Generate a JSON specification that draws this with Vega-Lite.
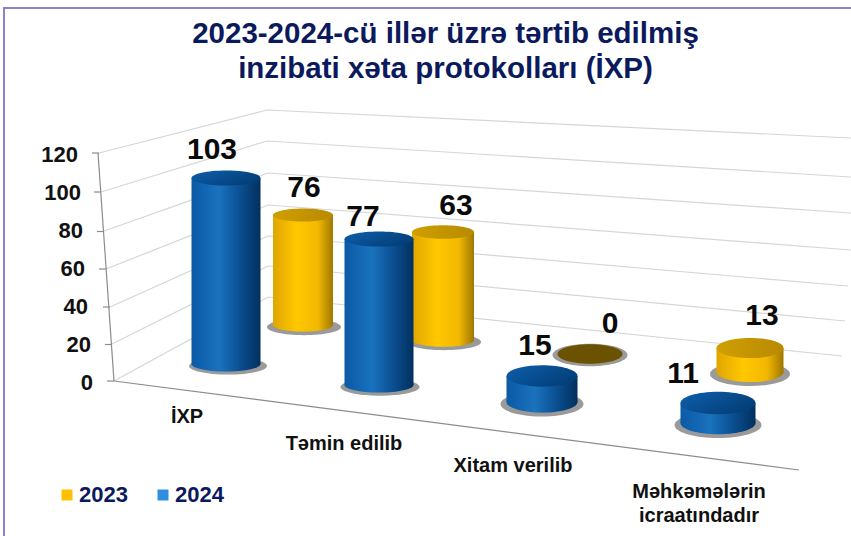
{
"$schema":"https://vega.github.io/schema/vega-lite/v6.json",
"width":851,"height":536,"padding":0,"autosize":{"type":"none"},"background":"white",
"config":{"view":{"stroke":null},"font":"Liberation Sans"},
"title":{"text":["2023-2024-cü illər üzrə tərtib edilmiş","inzibati xəta protokolları (İXP)"],"font":"Liberation Sans","fontSize":29.5,"fontWeight":"bold","color":"#0a1a5c","lineHeight":35,"anchor":"middle","frame":"group","offset":-84,"dx":20},
"datasets":{
"bars":[
{"category":"İXP","year":"2023","value":76},
{"category":"Təmin edilib","year":"2023","value":63},
{"category":"Xitam verilib","year":"2023","value":0},
{"category":"Məhkəmələrin icraatındadır","year":"2023","value":13},
{"category":"İXP","year":"2024","value":103},
{"category":"Təmin edilib","year":"2024","value":77},
{"category":"Xitam verilib","year":"2024","value":15},
{"category":"Məhkəmələrin icraatındadır","year":"2024","value":11}],
"cats":[{"label":"İXP"},{"label":"Təmin edilib"},{"label":"Xitam verilib"},{"label":"Məhkəmələrin\nicraatındadır"}],
"levels":[{"level":120},{"level":100},{"level":80},{"level":60},{"level":40},{"level":20},{"level":0}],
"wall":[
{"level":120,"node":"axis"},{"level":120,"node":"corner"},{"level":120,"node":"end"},
{"level":100,"node":"axis"},{"level":100,"node":"corner"},{"level":100,"node":"end"},
{"level":80,"node":"axis"},{"level":80,"node":"corner"},{"level":80,"node":"end"},
{"level":60,"node":"axis"},{"level":60,"node":"corner"},{"level":60,"node":"end"},
{"level":40,"node":"axis"},{"level":40,"node":"corner"},{"level":40,"node":"end"},
{"level":20,"node":"axis"},{"level":20,"node":"corner"},{"level":20,"node":"end"},
{"level":0,"node":"axis"},{"level":0,"node":"corner"},{"level":0,"node":"end"}],
"frame":[
{"line":"axis"},{"line":"axis"},{"line":"floor"},{"line":"floor"},
{"line":"t120"},{"line":"t120"},{"line":"t100"},{"line":"t100"},{"line":"t80"},{"line":"t80"},{"line":"t60"},{"line":"t60"},{"line":"t40"},{"line":"t40"},{"line":"t20"},{"line":"t20"},{"line":"t0"},{"line":"t0"}],
"border":[{"edge":"right"},{"edge":"corner"},{"edge":"bottom"}]
},
"resolve":{"scale":{"x":"independent","y":"independent","yOffset":"independent","size":"independent","color":"independent","shape":"independent"}},
"layer":[
{"data":{"name":"border"},"transform":[{"window":[{"op":"row_number","as":"n"}]}],
 "mark":{"type":"line","stroke":"#8a84c6","strokeWidth":2},
 "encoding":{"order":{"field":"n"},
  "x":{"field":"n","type":"quantitative","axis":null,"scale":{"domain":[1,2,3],"range":[851,4,4]}},
  "y":{"field":"n","type":"quantitative","axis":null,"scale":{"domain":[1,2,3],"range":[8,8,536]}}}},
{"data":{"name":"wall"},"transform":[{"window":[{"op":"row_number","as":"n"}]}],
 "mark":{"type":"line","stroke":"#d6d6d6","strokeWidth":1.2},
 "encoding":{"detail":{"field":"level"},"order":{"field":"n"},
  "x":{"field":"n","type":"quantitative","axis":null,"scale":{"domain":[1,2,3,4,5,6,7,8,9,10,11,12,13,14,15,16,17,18,19,20,21],"range":[99,267,851,101,267,851,104,268,851,106,268,851,110,268,848,112,268,845,114,268,842]}},
  "y":{"field":"n","type":"quantitative","axis":null,"scale":{"domain":[1,2,3,4,5,6,7,8,9,10,11,12,13,14,15,16,17,18,19,20,21],"range":[153,110,138,192,141,177,231,173,213,269,205,250,307,236,286,344,266,321,381,297,356]}}}},
{"data":{"name":"frame"},"transform":[{"window":[{"op":"row_number","as":"n"}]}],
 "mark":{"type":"line","stroke":"#8c8c8c","strokeWidth":1.2},
 "encoding":{"detail":{"field":"line"},"order":{"field":"n"},
  "x":{"field":"n","type":"quantitative","axis":null,"scale":{"domain":[1,2,3,4,5,6,7,8,9,10,11,12,13,14,15,16,17,18],"range":[98,114,114,799,92,99,94,101,97,104,99,106,103,110,105,112,107,114]}},
  "y":{"field":"n","type":"quantitative","axis":null,"scale":{"domain":[1,2,3,4,5,6,7,8,9,10,11,12,13,14,15,16,17,18],"range":[153,381,381,470,153,153,192,192,231.5,231.5,269,269,307,307,344.5,344.5,381,381]}}}},
{"data":{"name":"levels"},"transform":[{"window":[{"op":"row_number","as":"n"}]}],
 "mark":{"type":"text","align":"right","baseline":"middle","fontSize":22,"fontWeight":"bold","color":"#111111"},
 "encoding":{"text":{"field":"level","type":"quantitative"},
  "x":{"field":"n","type":"quantitative","axis":null,"scale":{"domain":[1,2,3,4,5,6,7],"range":[78,81,83,85,88,91,93]}},
  "y":{"field":"level","type":"quantitative","axis":null,"scale":{"domain":[-80.53,201.58],"range":[536,0],"nice":false,"zero":false}}}},

{"data":{"name":"bars"},"transform":[{"window":[{"op":"row_number","as":"slot"}]}],
 "mark":{"type":"point","filled":true,"opacity":1,"color":"#9a9a9a"},
 "encoding":{
  "x":{"field":"slot","type":"quantitative","axis":null,"scale":{"domain":[1,2,3,4,5,6,7,8],"range":[304,444,590,750,228,380,542,718]}},
  "y":{"datum":0,"type":"quantitative","axis":null,"scale":{"domain":[-86.67,211.11],"range":[536,0],"nice":false,"zero":false}},
  "yOffset":{"field":"slot","type":"quantitative","scale":{"domain":[1,2,3,4,5,6,7,8],"range":[-53,-38,-25,-6,-14,7,24,45]}},
  "size":{"field":"slot","type":"quantitative","legend":null,"scale":{"domain":[1,2,3,4,5,6,7,8],"range":[5476,5476,5625,6400,6084,6241,6889,7569]}},
  "shape":{"field":"slot","type":"nominal","legend":null,"scale":{"domain":[1,2,3,4,5,6,7,8],"range":["M-1,0A1,0.22 0 1,0 1,0A1,0.22 0 1,0 -1,0Z","M-1,0A1,0.22 0 1,0 1,0A1,0.22 0 1,0 -1,0Z","M-1,0A1,0.3 0 1,0 1,0A1,0.3 0 1,0 -1,0Z","M-1,0A1,0.3 0 1,0 1,0A1,0.3 0 1,0 -1,0Z","M-1,0A1,0.22 0 1,0 1,0A1,0.22 0 1,0 -1,0Z","M-1,0A1,0.22 0 1,0 1,0A1,0.22 0 1,0 -1,0Z","M-1,0A1,0.3 0 1,0 1,0A1,0.3 0 1,0 -1,0Z","M-1,0A1,0.3 0 1,0 1,0A1,0.3 0 1,0 -1,0Z"]}}}},

{"data":{"name":"bars"},"transform":[{"window":[{"op":"row_number","as":"slot"}]},{"filter":"datum.year==='2023' && datum.value>0"}],
 "mark":{"type":"point","filled":true,"opacity":1,"color":{"gradient":"linear","x1":0,"x2":1,"y1":0,"y2":0,"stops":[{"offset":0,"color":"#e0a500"},{"offset":0.4,"color":"#ffc800"},{"offset":0.75,"color":"#f2b800"},{"offset":1,"color":"#a07800"}]}},
 "encoding":{
  "x":{"field":"slot","type":"quantitative","axis":null,"scale":{"domain":[1,2,3,4,5,6,7,8],"range":[303,443,590,750,226,379,542,718]}},
  "y":{"datum":0,"type":"quantitative","axis":null,"scale":{"domain":[-86.67,211.11],"range":[536,0],"nice":false,"zero":false}},
  "yOffset":{"field":"slot","type":"quantitative","scale":{"domain":[1,2,3,4,5,6,7,8],"range":[-55,-40,-26,-8,-16,5,22,43]}},
  "size":{"field":"slot","type":"quantitative","legend":null,"scale":{"domain":[1,2,3,4,5,6,7,8],"range":[3600,3844,4225,4489,4761,4761,5041,5625]}},
  "shape":{"field":"slot","type":"nominal","legend":null,"scale":{"domain":[1,2,3,4,5,6,7,8],"range":["M-1,0A1,0.22 0 1,0 1,0A1,0.22 0 1,0 -1,0Z","M-1,0A1,0.22 0 1,0 1,0A1,0.22 0 1,0 -1,0Z","M-1,0A1,0.3 0 1,0 1,0A1,0.3 0 1,0 -1,0Z","M-1,0A1,0.3 0 1,0 1,0A1,0.3 0 1,0 -1,0Z","M-1,0A1,0.22 0 1,0 1,0A1,0.22 0 1,0 -1,0Z","M-1,0A1,0.22 0 1,0 1,0A1,0.22 0 1,0 -1,0Z","M-1,0A1,0.3 0 1,0 1,0A1,0.3 0 1,0 -1,0Z","M-1,0A1,0.3 0 1,0 1,0A1,0.3 0 1,0 -1,0Z"]}}}},

{"data":{"name":"bars"},"transform":[{"window":[{"op":"row_number","as":"slot"}]},{"filter":"datum.slot===1"}],
 "mark":{"type":"bar","width":60,"color":{"gradient":"linear","x1":0,"x2":1,"y1":0,"y2":0,"stops":[{"offset":0,"color":"#e0a500"},{"offset":0.4,"color":"#ffc800"},{"offset":0.75,"color":"#f2b800"},{"offset":1,"color":"#a07800"}]}},
 "encoding":{
  "x":{"field":"slot","type":"quantitative","axis":null,"scale":{"domain":[0,1,9],"range":[200,303,800]}},
  "y":{"field":"value","type":"quantitative","axis":null,"stack":null,"scale":{"domain":[-145.8,224.6],"range":[536,0],"nice":false,"zero":false}},
  "y2":{"datum":0}}},
{"data":{"name":"bars"},"transform":[{"window":[{"op":"row_number","as":"slot"}]},{"filter":"datum.slot===2"}],
 "mark":{"type":"bar","width":62,"color":{"gradient":"linear","x1":0,"x2":1,"y1":0,"y2":0,"stops":[{"offset":0,"color":"#e0a500"},{"offset":0.4,"color":"#ffc800"},{"offset":0.75,"color":"#f2b800"},{"offset":1,"color":"#a07800"}]}},
 "encoding":{
  "x":{"field":"slot","type":"quantitative","axis":null,"scale":{"domain":[1,2,8],"range":[303,443,718]}},
  "y":{"field":"value","type":"quantitative","axis":null,"stack":null,"scale":{"domain":[-114.4,198.4],"range":[536,0],"nice":false,"zero":false}},
  "y2":{"datum":0}}},
{"data":{"name":"bars"},"transform":[{"window":[{"op":"row_number","as":"slot"}]},{"filter":"datum.slot===4"}],
 "mark":{"type":"bar","width":67,"color":{"gradient":"linear","x1":0,"x2":1,"y1":0,"y2":0,"stops":[{"offset":0,"color":"#e0a500"},{"offset":0.4,"color":"#ffc800"},{"offset":0.75,"color":"#f2b800"},{"offset":1,"color":"#a07800"}]}},
 "encoding":{
  "x":{"field":"slot","type":"quantitative","axis":null,"scale":{"domain":[1,4,8],"range":[303,750,718]}},
  "y":{"field":"value","type":"quantitative","axis":null,"stack":null,"scale":{"domain":[-88.8,201.5],"range":[536,0],"nice":false,"zero":false}},
  "y2":{"datum":0}}},

{"data":{"name":"bars"},"transform":[{"window":[{"op":"row_number","as":"slot"}]},{"filter":"datum.year==='2023' && datum.value>0"}],
 "mark":{"type":"point","filled":true,"opacity":1,"color":{"gradient":"linear","x1":0,"x2":1,"y1":0,"y2":0,"stops":[{"offset":0,"color":"#cf9f00"},{"offset":1,"color":"#b88a00"}]}},
 "encoding":{
  "x":{"field":"slot","type":"quantitative","axis":null,"scale":{"domain":[1,2,3,4,5,6,7,8],"range":[303,443,590,750,226,379,542,718]}},
  "y":{"field":"slot","type":"quantitative","axis":null,"scale":{"domain":[1,2,3,4,5,6,7,8],"range":[215,232,354,348,178,239,376,403]}},
  "size":{"field":"slot","type":"quantitative","legend":null,"scale":{"domain":[1,2,3,4,5,6,7,8],"range":[3600,3844,4225,4489,4761,4761,5041,5625]}},
  "shape":{"field":"slot","type":"nominal","legend":null,"scale":{"domain":[1,2,3,4,5,6,7,8],"range":["M-1,0A1,0.22 0 1,0 1,0A1,0.22 0 1,0 -1,0Z","M-1,0A1,0.22 0 1,0 1,0A1,0.22 0 1,0 -1,0Z","M-1,0A1,0.3 0 1,0 1,0A1,0.3 0 1,0 -1,0Z","M-1,0A1,0.3 0 1,0 1,0A1,0.3 0 1,0 -1,0Z","M-1,0A1,0.22 0 1,0 1,0A1,0.22 0 1,0 -1,0Z","M-1,0A1,0.22 0 1,0 1,0A1,0.22 0 1,0 -1,0Z","M-1,0A1,0.3 0 1,0 1,0A1,0.3 0 1,0 -1,0Z","M-1,0A1,0.3 0 1,0 1,0A1,0.3 0 1,0 -1,0Z"]}}}},
{"data":{"name":"bars"},"transform":[{"window":[{"op":"row_number","as":"slot"}]},{"filter":"datum.value===0"}],
 "mark":{"type":"point","filled":true,"opacity":1,"color":"#6a5200"},
 "encoding":{
  "x":{"field":"slot","type":"quantitative","axis":null,"scale":{"domain":[1,2,3,4,5,6,7,8],"range":[303,443,590,750,226,379,542,718]}},
  "y":{"field":"slot","type":"quantitative","axis":null,"scale":{"domain":[1,2,3,4,5,6,7,8],"range":[215,232,354,348,178,239,376,403]}},
  "size":{"field":"slot","type":"quantitative","legend":null,"scale":{"domain":[1,2,3,4,5,6,7,8],"range":[3600,3844,4225,4489,4761,4761,5041,5625]}},
  "shape":{"value":"M-1,0A1,0.3 0 1,0 1,0A1,0.3 0 1,0 -1,0Z"}}},

{"data":{"name":"bars"},"transform":[{"window":[{"op":"row_number","as":"slot"}]},{"filter":"datum.year==='2024'"}],
 "mark":{"type":"point","filled":true,"opacity":1,"color":{"gradient":"linear","x1":0,"x2":1,"y1":0,"y2":0,"stops":[{"offset":0,"color":"#0b5aa6"},{"offset":0.4,"color":"#1a72bd"},{"offset":0.7,"color":"#0b4f92"},{"offset":1,"color":"#02305e"}]}},
 "encoding":{
  "x":{"field":"slot","type":"quantitative","axis":null,"scale":{"domain":[1,2,3,4,5,6,7,8],"range":[303,443,590,750,226,379,542,718]}},
  "y":{"datum":0,"type":"quantitative","axis":null,"scale":{"domain":[-86.67,211.11],"range":[536,0],"nice":false,"zero":false}},
  "yOffset":{"field":"slot","type":"quantitative","scale":{"domain":[1,2,3,4,5,6,7,8],"range":[-55,-40,-26,-8,-16,5,22,43]}},
  "size":{"field":"slot","type":"quantitative","legend":null,"scale":{"domain":[1,2,3,4,5,6,7,8],"range":[3600,3844,4225,4489,4761,4761,5041,5625]}},
  "shape":{"field":"slot","type":"nominal","legend":null,"scale":{"domain":[1,2,3,4,5,6,7,8],"range":["M-1,0A1,0.22 0 1,0 1,0A1,0.22 0 1,0 -1,0Z","M-1,0A1,0.22 0 1,0 1,0A1,0.22 0 1,0 -1,0Z","M-1,0A1,0.3 0 1,0 1,0A1,0.3 0 1,0 -1,0Z","M-1,0A1,0.3 0 1,0 1,0A1,0.3 0 1,0 -1,0Z","M-1,0A1,0.22 0 1,0 1,0A1,0.22 0 1,0 -1,0Z","M-1,0A1,0.22 0 1,0 1,0A1,0.22 0 1,0 -1,0Z","M-1,0A1,0.3 0 1,0 1,0A1,0.3 0 1,0 -1,0Z","M-1,0A1,0.3 0 1,0 1,0A1,0.3 0 1,0 -1,0Z"]}}}},

{"data":{"name":"bars"},"transform":[{"window":[{"op":"row_number","as":"slot"}]},{"filter":"datum.slot===5"}],
 "mark":{"type":"bar","width":69,"color":{"gradient":"linear","x1":0,"x2":1,"y1":0,"y2":0,"stops":[{"offset":0,"color":"#0b5aa6"},{"offset":0.4,"color":"#1a72bd"},{"offset":0.7,"color":"#0b4f92"},{"offset":1,"color":"#02305e"}]}},
 "encoding":{
  "x":{"field":"slot","type":"quantitative","axis":null,"scale":{"domain":[1,5,8],"range":[303,226,718]}},
  "y":{"field":"value","type":"quantitative","axis":null,"stack":null,"scale":{"domain":[-95.2,201.6],"range":[536,0],"nice":false,"zero":false}},
  "y2":{"datum":0}}},
{"data":{"name":"bars"},"transform":[{"window":[{"op":"row_number","as":"slot"}]},{"filter":"datum.slot===6"}],
 "mark":{"type":"bar","width":69,"color":{"gradient":"linear","x1":0,"x2":1,"y1":0,"y2":0,"stops":[{"offset":0,"color":"#0b5aa6"},{"offset":0.4,"color":"#1a72bd"},{"offset":0.7,"color":"#0b4f92"},{"offset":1,"color":"#02305e"}]}},
 "encoding":{
  "x":{"field":"slot","type":"quantitative","axis":null,"scale":{"domain":[1,6,8],"range":[303,379,718]}},
  "y":{"field":"value","type":"quantitative","axis":null,"stack":null,"scale":{"domain":[-79.6,203.1],"range":[536,0],"nice":false,"zero":false}},
  "y2":{"datum":0}}},
{"data":{"name":"bars"},"transform":[{"window":[{"op":"row_number","as":"slot"}]},{"filter":"datum.slot===7"}],
 "mark":{"type":"bar","width":71,"color":{"gradient":"linear","x1":0,"x2":1,"y1":0,"y2":0,"stops":[{"offset":0,"color":"#0b5aa6"},{"offset":0.4,"color":"#1a72bd"},{"offset":0.7,"color":"#0b4f92"},{"offset":1,"color":"#02305e"}]}},
 "encoding":{
  "x":{"field":"slot","type":"quantitative","axis":null,"scale":{"domain":[1,7,8],"range":[303,542,718]}},
  "y":{"field":"value","type":"quantitative","axis":null,"stack":null,"scale":{"domain":[-77.3,232.0],"range":[536,0],"nice":false,"zero":false}},
  "y2":{"datum":0}}},
{"data":{"name":"bars"},"transform":[{"window":[{"op":"row_number","as":"slot"}]},{"filter":"datum.slot===8"}],
 "mark":{"type":"bar","width":75,"color":{"gradient":"linear","x1":0,"x2":1,"y1":0,"y2":0,"stops":[{"offset":0,"color":"#0b5aa6"},{"offset":0.4,"color":"#1a72bd"},{"offset":0.7,"color":"#0b4f92"},{"offset":1,"color":"#02305e"}]}},
 "encoding":{
  "x":{"field":"slot","type":"quantitative","axis":null,"scale":{"domain":[0,8,9],"range":[200,718,800]}},
  "y":{"field":"value","type":"quantitative","axis":null,"stack":null,"scale":{"domain":[-62.2,232.7],"range":[536,0],"nice":false,"zero":false}},
  "y2":{"datum":0}}},

{"data":{"name":"bars"},"transform":[{"window":[{"op":"row_number","as":"slot"}]},{"filter":"datum.year==='2024'"}],
 "mark":{"type":"point","filled":true,"opacity":1,"color":{"gradient":"linear","x1":0,"x2":1,"y1":0,"y2":0.6,"stops":[{"offset":0,"color":"#0d5fac"},{"offset":1,"color":"#033f78"}]}},
 "encoding":{
  "x":{"field":"slot","type":"quantitative","axis":null,"scale":{"domain":[1,2,3,4,5,6,7,8],"range":[303,443,590,750,226,379,542,718]}},
  "y":{"field":"slot","type":"quantitative","axis":null,"scale":{"domain":[1,2,3,4,5,6,7,8],"range":[215,232,354,348,178,239,376,403]}},
  "size":{"field":"slot","type":"quantitative","legend":null,"scale":{"domain":[1,2,3,4,5,6,7,8],"range":[3600,3844,4225,4489,4761,4761,5041,5625]}},
  "shape":{"field":"slot","type":"nominal","legend":null,"scale":{"domain":[1,2,3,4,5,6,7,8],"range":["M-1,0A1,0.22 0 1,0 1,0A1,0.22 0 1,0 -1,0Z","M-1,0A1,0.22 0 1,0 1,0A1,0.22 0 1,0 -1,0Z","M-1,0A1,0.3 0 1,0 1,0A1,0.3 0 1,0 -1,0Z","M-1,0A1,0.3 0 1,0 1,0A1,0.3 0 1,0 -1,0Z","M-1,0A1,0.22 0 1,0 1,0A1,0.22 0 1,0 -1,0Z","M-1,0A1,0.22 0 1,0 1,0A1,0.22 0 1,0 -1,0Z","M-1,0A1,0.3 0 1,0 1,0A1,0.3 0 1,0 -1,0Z","M-1,0A1,0.3 0 1,0 1,0A1,0.3 0 1,0 -1,0Z"]}}}},

{"data":{"name":"bars"},"transform":[{"window":[{"op":"row_number","as":"slot"}]}],
 "mark":{"type":"text","baseline":"middle","fontSize":30,"fontWeight":"bold","color":"#0a0a0a"},
 "encoding":{"text":{"field":"value","type":"quantitative"},
  "x":{"field":"slot","type":"quantitative","axis":null,"scale":{"domain":[1,2,3,4,5,6,7,8],"range":[304,456,610,762,212,363,535,683]}},
  "y":{"field":"slot","type":"quantitative","axis":null,"scale":{"domain":[1,2,3,4,5,6,7,8],"range":[188,206,324,316,150,217,346,374]}}}},
{"data":{"name":"cats"},"transform":[{"window":[{"op":"row_number","as":"n"}]}],
 "mark":{"type":"text","baseline":"middle","fontSize":20,"fontWeight":"bold","color":"#111111","lineBreak":"\n","lineHeight":24},
 "encoding":{"text":{"field":"label"},
  "x":{"field":"n","type":"quantitative","axis":null,"scale":{"domain":[1,2,3,4],"range":[187,344,513,699]}},
  "y":{"field":"n","type":"quantitative","axis":null,"scale":{"domain":[1,2,3,4],"range":[417,444,466,492]}}}},
{"data":{"name":"bars"},
 "mark":{"type":"square","opacity":0},
 "encoding":{"color":{"field":"year","type":"nominal","scale":{"domain":["2023","2024"],"range":["#ffc000","#2e8fdf"]},
  "legend":{"title":null,"orient":"none","legendX":56,"legendY":484,"direction":"horizontal","columns":2,"symbolType":"square","symbolSize":121,"symbolOpacity":1,"labelFont":"Liberation Sans","labelFontSize":22,"labelFontWeight":"bold","labelColor":"#0a1a5c","columnPadding":24,"labelOffset":1}}}}
]
}
